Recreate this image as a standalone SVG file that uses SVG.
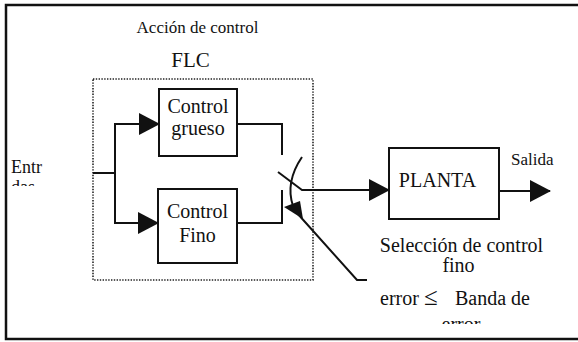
<svg xmlns="http://www.w3.org/2000/svg" width="578" height="342" viewBox="0 0 578 342">
<style>
  text { font-family: "Liberation Serif", "Times New Roman", serif; fill: #111; }
  .box { fill: none; stroke: #111; stroke-width: 2; }
  .dot { fill: none; stroke: #222; stroke-width: 1.6; stroke-dasharray: 1.4 1.4; }
  .ln { fill: none; stroke: #111; stroke-width: 2; }
  .mid { text-anchor: middle; }
</style>
<defs>
  <marker id="ah" markerUnits="userSpaceOnUse" markerWidth="21" markerHeight="22" refX="20" refY="11" orient="auto">
    <path d="M0,0 L21,11 L0,22 z" fill="#111"/>
  </marker>
  <clipPath id="clipEntr"><rect x="0" y="0" width="100" height="186"/></clipPath>
  <clipPath id="clipErr"><rect x="300" y="0" width="278" height="324"/></clipPath>
</defs>

<rect id="frame" x="6" y="5" width="600" height="334" fill="none" stroke="#111" stroke-width="2.5"/>

<text class="mid" x="197.5" y="33" font-size="17">Acción de control</text>

<g id="flc">
  <rect class="dot" x="93" y="79" width="220" height="201"/>
  <text class="mid" x="190.5" y="67" font-size="21">FLC</text>
</g>

<g id="entrada">
  <text x="11" y="173" font-size="18">Entr</text>
  <text x="11" y="193" font-size="18" clip-path="url(#clipEntr)">das</text>
</g>

<g id="control-grueso">
  <rect class="box" x="159" y="89" width="78" height="67"/>
  <text class="mid" x="198" y="113" font-size="20">Control</text>
  <text class="mid" x="198" y="135" font-size="20">grueso</text>
</g>

<g id="control-fino">
  <rect class="box" x="158" y="189" width="79" height="74"/>
  <text class="mid" x="197.5" y="218" font-size="20">Control</text>
  <text class="mid" x="197.5" y="242" font-size="20">Fino</text>
</g>

<g id="planta">
  <rect class="box" x="389" y="148" width="110" height="71"/>
  <text class="mid" x="437.5" y="187" font-size="20">PLANTA</text>
</g>

<g id="salida">
  <text x="511" y="165" font-size="17">Salida</text>
</g>

<g id="seleccion">
  <text class="mid" x="461.5" y="252" font-size="20">Selección de control</text>
  <text class="mid" x="458.5" y="272" font-size="20">fino</text>
  <text x="380" y="305" font-size="20">error<tspan x="424" font-size="25">≤</tspan><tspan x="455">Banda de</tspan></text>
  <text class="mid" x="461" y="331" font-size="20" clip-path="url(#clipErr)">error</text>
</g>

<g id="connectors">
  <path class="ln" d="M93,173 H115"/>
  <path class="ln" d="M115,173 V124 H159" marker-end="url(#ah)"/>
  <path class="ln" d="M115,173 V223 H158" marker-end="url(#ah)"/>
  <path class="ln" d="M237,124 H282 V155"/>
  <path class="ln" d="M237,223 H282 V190"/>
  <path class="ln" d="M278,172 L302,190 H389" marker-end="url(#ah)"/>
  <path class="ln" d="M499,191 H550" marker-end="url(#ah)"/>
  <path class="ln" d="M302,157 Q285,182 293,206"/>
  <polygon points="284,207 300,201 303,219" fill="#111"/>
  <path class="ln" d="M297,213 L357,280 H367"/>
</g>
</svg>
